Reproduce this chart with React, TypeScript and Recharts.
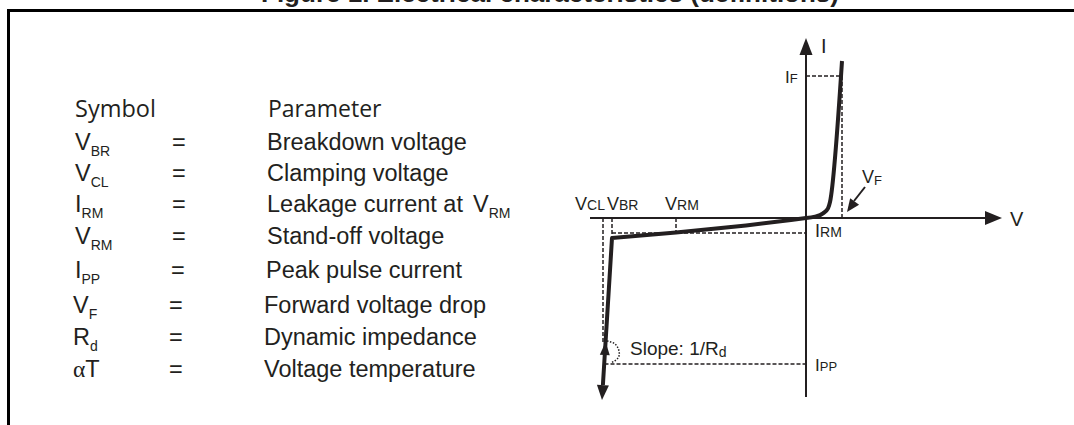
import { ComposedChart, Line, XAxis, YAxis, Scatter, ReferenceDot } from 'recharts'

// I/V characteristic of a transil (schematic units: V to the right, I up)
const V_CL = -20.3
const V_BR = -19.4
const V_RM = -13.0
const V_F = 3.6
const I_F = 14.2
const I_RM = -1.5
const I_BR = -2.0
const I_PP = -14.6

const reverseCurve = [
  { v: -20.31, i: -16.7 },
  { v: V_BR, i: I_BR },
  { v: V_RM, i: -1.45 },
  { v: -6.0, i: -0.75 },
  { v: -1.5, i: -0.2 },
  { v: 0, i: 0 },
]
const forwardCurve = [
  { v: 0, i: 0 },
  { v: 0.9, i: 0.13 },
  { v: 1.7, i: 0.47 },
  { v: 2.2, i: 0.97 },
  { v: 2.4, i: 1.6 },
  { v: V_F, i: 15.7 },
]
const slopeArc = [
  { v: -19.9, i: -12.3 },
  { v: -19.1, i: -12.6 },
  { v: -18.7, i: -13.3 },
  { v: -18.8, i: -14.0 },
  { v: -19.5, i: -14.5 },
]
const vAxis = [{ v: -21.6, i: 0 }, { v: 18.2, i: 0 }]
const iAxis = [{ v: 0, i: -17.9 }, { v: 0, i: 16.6 }]
const vfPointer = [{ v: 5.9, i: 3.1 }, { v: 4.8, i: 1.7 }]

// dashed guides
const guides = [
  [{ v: 0, i: I_F }, { v: V_F, i: I_F }],
  [{ v: V_F, i: I_F }, { v: V_F, i: 0 }],
  [{ v: V_BR, i: I_RM }, { v: 0, i: I_RM }],
  [{ v: V_RM, i: 0 }, { v: V_RM, i: I_RM }],
  [{ v: V_BR, i: 0 }, { v: V_BR, i: I_BR }],
  [{ v: V_CL, i: 0 }, { v: V_CL, i: -12.4 }],
  [{ v: -20.15, i: I_PP }, { v: 0, i: I_PP }],
]

// arrow tips: [v, i, direction in degrees (screen), length, width]
const arrows = [
  [0, 18.0, -90, 17, 13],
  [19.6, 0, 0, 17, 14],
  [4.1, 0.6, 125.8, 13, 11],
  [-20.4, -18.2, 93.5, 15, 12],
  [-20.04, -12.4, -86.5, 13, 10],
]

// table
const TITLE = 'Figure 1. Electrical characteristics (definitions)'
const symbolMain = ['V', 'V', 'I', 'V', 'I', 'V', 'R', 'T']
const symbolSub = ['BR', 'CL', 'RM', 'RM', 'PP', 'F', 'd', '']
const parameterText = [
  'Breakdown voltage',
  'Clamping voltage',
  'Leakage current at',
  'Stand-off voltage',
  'Peak pulse current',
  'Forward voltage drop',
  'Dynamic impedance',
  'Voltage temperature',
]
const parameterSub = ['', '', 'RM', '', '', '', '', '']

const INK = '#231f20'
const SANS = '"Liberation Sans", Arial, sans-serif'
const rowY = [150, 181, 212, 244, 278, 313, 345, 377]
const symX = [75, 75, 75, 75, 75, 73, 73, 73]
const eqX = [172, 172, 172, 172, 171, 169, 169, 169]
const parX = [267, 267, 267, 267, 266, 264, 264, 264]

function arrowShape(cx: number, cy: number, deg: number, len: number, wid: number) {
  const a = (deg * Math.PI) / 180
  const dx = Math.cos(a)
  const dy = Math.sin(a)
  const bx = cx - dx * len
  const by = cy - dy * len
  const px = (-dy * wid) / 2
  const py = (dx * wid) / 2
  return <polygon points={`${cx},${cy} ${bx + px},${by + py} ${bx - px},${by - py}`} fill={INK} />
}

function sym(main: string, sub: string, fs: number, subFs: number, subDy: number, dx: number, dy: number) {
  return (p: any) => (
    <text x={p.cx + dx} y={p.cy + dy} fontFamily={SANS} fontSize={fs} fill={INK}>
      {main}
      {sub && (
        <tspan fontSize={subFs} dy={subDy}>
          {sub}
        </tspan>
      )}
    </text>
  )
}

const dashed = { stroke: INK, strokeWidth: 1.5, strokeDasharray: '4 2', dot: false, isAnimationActive: false }

export default function App() {
  return (
    <div style={{ position: 'absolute', left: 0, top: 0, width: 1074, height: 425, overflow: 'hidden', background: '#fff' }}>
      <svg width={1074} height={425} style={{ position: 'absolute', left: 0, top: 0 }}>
        <text x={550} y={2} textAnchor="middle" fontFamily={SANS} fontWeight="bold" fontSize={26} fill={INK}>
          {TITLE}
        </text>
        <rect x={8.5} y={10.5} width={1200} height={800} fill="none" stroke="#000" strokeWidth={3} />
        <text x={75} y={117} fontFamily='"Open Sans", "Noto Sans", sans-serif' fontSize={23.5} fill={INK}>
          Symbol
        </text>
        <text x={268} y={117} fontFamily='"Open Sans", "Noto Sans", sans-serif' fontSize={23} fill={INK}>
          Parameter
        </text>
        {parameterText.map((t, k) => (
          <g key={t} fill={INK} fontFamily={SANS}>
            <text x={symX[k]} y={rowY[k]} fontSize={23.5}>
              {symbolSub[k] === '' && <tspan fontFamily='"Liberation Serif", serif'>α</tspan>}
              {symbolMain[k]}
              {symbolSub[k] && (
                <tspan fontSize={14} dy={6}>
                  {symbolSub[k]}
                </tspan>
              )}
            </text>
            <text x={eqX[k]} y={rowY[k]} fontSize={23.5}>
              =
            </text>
            <text x={parX[k]} y={rowY[k]} fontSize={23.5}>
              {t}
              {parameterSub[k] && (
                <>
                  <tspan dx={10}>V</tspan>
                  <tspan fontSize={14} dy={6}>
                    {parameterSub[k]}
                  </tspan>
                </>
              )}
            </text>
          </g>
        ))}
      </svg>
      <div style={{ position: 'absolute', left: 556, top: 18 }}>
        <ComposedChart width={500} height={400} margin={{ top: 0, right: 0, bottom: 0, left: 0 }}>
          <XAxis type="number" dataKey="v" domain={[-25, 25]} hide allowDataOverflow />
          <YAxis type="number" dataKey="i" domain={[-20, 20]} hide allowDataOverflow />
          <Line data={vAxis} dataKey="i" type="linear" stroke={INK} strokeWidth={2} dot={false} isAnimationActive={false} />
          <Line data={iAxis} dataKey="i" type="linear" stroke={INK} strokeWidth={2} dot={false} isAnimationActive={false} />
          {guides.map((g, k) => (
            <Line key={k} data={g} dataKey="i" type="linear" {...dashed} />
          ))}
          <Line data={slopeArc} dataKey="i" type="natural" stroke={INK} strokeWidth={1.5} strokeDasharray="1.5 1.5" dot={false} isAnimationActive={false} />
          <Line data={vfPointer} dataKey="i" type="linear" stroke={INK} strokeWidth={2} dot={false} isAnimationActive={false} />
          <Line data={reverseCurve} dataKey="i" type="linear" stroke={INK} strokeWidth={4} strokeLinejoin="round" dot={false} isAnimationActive={false} />
          <Line data={forwardCurve} dataKey="i" type="monotone" stroke={INK} strokeWidth={4} strokeLinejoin="round" dot={false} isAnimationActive={false} />
          {arrows.map(([v, i, deg, len, wid], k) => (
            <Scatter
              key={`a${k}`}
              data={[{ v, i }]}
              dataKey="i"
              isAnimationActive={false}
              shape={(p: any) => arrowShape(p.cx, p.cy, deg, len, wid)}
            />
          ))}
          <ReferenceDot x={0} y={18} r={0} ifOverflow="visible" shape={sym('I', '', 20, 14, 0, 15, 15)} />
          <ReferenceDot x={19.6} y={0} r={0} ifOverflow="visible" shape={sym('V', '', 20, 14, 0, 8, 8)} />
          <ReferenceDot x={0} y={I_F} r={0} ifOverflow="visible" shape={sym('I', 'F', 17, 13, 0, -21, 7)} />
          <ReferenceDot x={V_F} y={0} r={0} ifOverflow="visible" shape={sym('V', 'F', 18, 13, 2, 20, -35)} />
          <ReferenceDot x={0} y={I_RM} r={0} ifOverflow="visible" shape={sym('I', 'RM', 18, 14, 0, 9, 4)} />
          <ReferenceDot x={0} y={I_PP} r={0} ifOverflow="visible" shape={sym('I', 'PP', 17, 13, 0, 9, 7)} />
          <ReferenceDot x={V_CL} y={0} r={0} ifOverflow="visible" shape={sym('V', 'CL', 18, 14, 0, -28, -8)} />
          <ReferenceDot x={V_BR} y={0} r={0} ifOverflow="visible" shape={sym('V', 'BR', 18, 14, 0, -5, -8)} />
          <ReferenceDot x={V_RM} y={0} r={0} ifOverflow="visible" shape={sym('V', 'RM', 18, 14, 0, -11, -8)} />
          <ReferenceDot x={V_CL} y={I_PP} r={0} ifOverflow="visible" shape={sym('Slope: 1/R', 'd', 19, 14, 2, 27, -9)} />
        </ComposedChart>
      </div>
    </div>
  )
}
